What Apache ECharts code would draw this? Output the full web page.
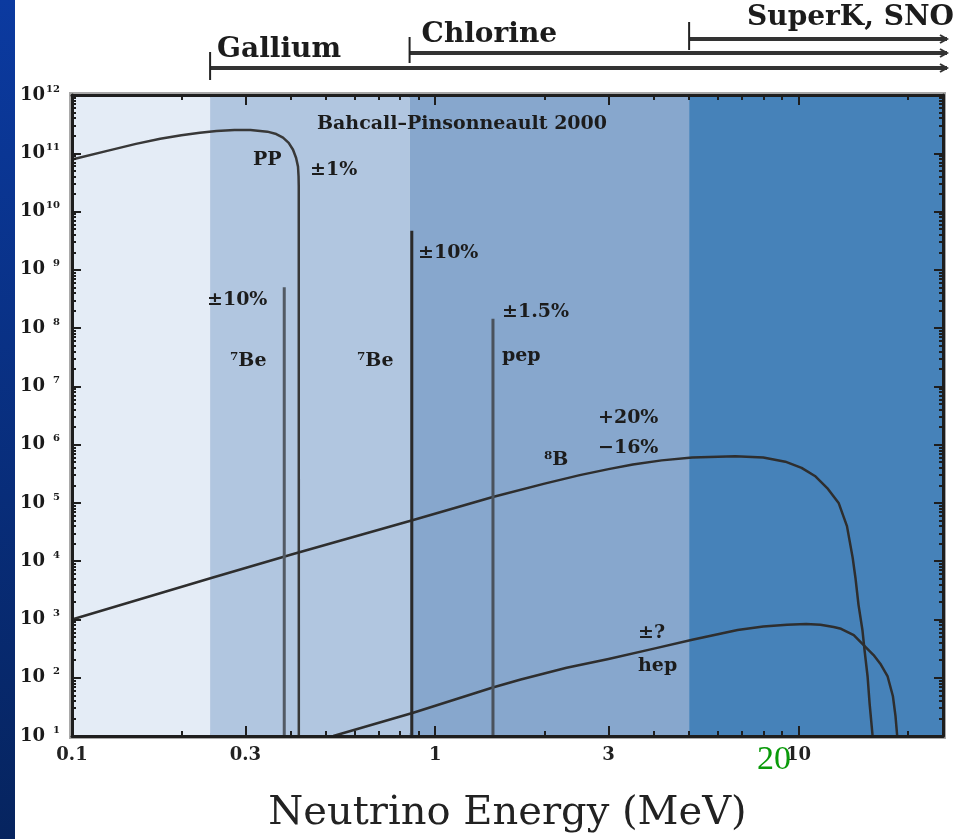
<!DOCTYPE html>
<html>
<head>
<meta charset="utf-8">
<script src="https://cdn.jsdelivr.net/npm/echarts@6/dist/echarts.min.js"></script>
<style>
  html, body { margin: 0; padding: 0; background: #fff; }
  #chart { width: 954px; height: 839px; }
</style>
</head>
<body>
<div id="chart"></div>
<script>
// energies in MeV, fluxes
const ppEnergy = [0.1, 0.125, 0.15, 0.175, 0.2, 0.225, 0.25, 0.28, 0.31, 0.345, 0.365, 0.381, 0.395, 0.406, 0.414, 0.419, 0.4205, 0.421, 0.4212];
const ppFlux = [7.8e10, 1.1e11, 1.45e11, 1.78e11, 2.04e11, 2.24e11, 2.4e11, 2.5e11, 2.5e11, 2.35e11, 2.14e11, 1.86e11, 1.51e11, 1.15e11, 8.3e10, 5.9e10, 4.0e10, 2.7e10, 10];

const b8Energy = [0.1, 0.243, 0.402, 0.87, 1.44, 2.0, 2.5, 3.0, 3.5, 4.2, 5.1, 6.7, 8.0, 9.2, 10.2, 11.1, 12.0, 12.9, 13.6, 14.1, 14.35, 14.63, 15.0, 15.2, 15.5, 15.7, 16.0];
const b8Flux = [1.0e3, 5.2e3, 1.3e4, 5.1e4, 1.26e5, 2.14e5, 3.0e5, 3.8e5, 4.57e5, 5.37e5, 6.0e5, 6.3e5, 6.0e5, 5.1e5, 4.0e5, 2.9e5, 1.8e5, 1.0e5, 4.0e4, 1.15e4, 5.2e3, 1.8e3, 660, 300, 105, 36, 10];

const hepEnergy = [0.524, 0.87, 1.44, 1.72, 2.3, 3.0, 4.0, 5.1, 6.8, 8.0, 9.3, 10.5, 11.5, 12.5, 13.1, 14.2, 15.0, 16.1, 16.8, 17.6, 18.2, 18.5, 18.7];
const hepFlux = [10, 25, 68, 93, 148, 209, 316, 447, 660, 760, 813, 832, 813, 741, 692, 537, 380, 245, 174, 105, 48, 22, 10];

// line sources: [energy, top flux]
const be7Low = [0.384, 5.0e8];
const be7High = [0.862, 4.7e9];
const pepLine = [1.442, 1.45e8];

// detector thresholds / shaded bands
const bandEdges = [0.1, 0.24, 0.85, 5, 25];
const bandColors = ['#e4ecf6', '#b1c6e0', '#87a7cd', '#4682b9'];

const xTickLabels = [0.1, 0.3, 1, 3, 10];
const yTickExps = [1, 2, 3, 4, 5, 6, 7, 8, 9, 10, 11, 12];

const xMin = 0.1, xMax = 25, yMin = 10, yMax = 1e12;

let xMinor = [];
for (let d = -1; d <= 1; d++) {
  for (let k = 1; k <= 9; k++) xMinor.push(+(k * Math.pow(10, d)).toPrecision(3));
}
xMinor.push(20);
let yMajor = yTickExps.map(e => Math.pow(10, e));
let yMinor = [];
yTickExps.slice(0, -1).forEach(e => {
  for (let k = 2; k <= 9; k++) yMinor.push(k * Math.pow(10, e));
});

const pairs = (xs, ys) => xs.map((x, i) => [x, ys[i]]);
const frame = '#1e1e1e';
const serif = 'DejaVu Serif';

function xAxisDef(pos, major, labels) {
  return {
    type: 'log', logBase: 10, min: xMin, max: xMax, position: pos, z: 6,
    axisLine: { show: major, lineStyle: { color: frame, width: 3 } },
    axisTick: { show: true, inside: true, length: major ? 10 : 5,
      customValues: major ? xTickLabels : xMinor,
      lineStyle: { color: frame, width: 2 } },
    axisLabel: labels ? {
      show: true, customValues: xTickLabels, margin: 10,
      formatter: v => String(v),
      fontFamily: serif, fontWeight: 'bold', fontSize: 18, color: '#222'
    } : { show: false },
    splitLine: { show: false }
  };
}
function yAxisDef(pos, major, labels) {
  return {
    type: 'log', logBase: 10, min: yMin, max: yMax, position: pos, z: 6,
    axisLine: { show: major, lineStyle: { color: frame, width: 3 } },
    axisTick: { show: true, inside: true, length: major ? 9 : 4,
      customValues: major ? yMajor : yMinor,
      lineStyle: { color: frame, width: 2 } },
    axisLabel: labels ? {
      show: true, customValues: yMajor, margin: 12,
      formatter: v => '{b|10}{s|' + Math.round(Math.log10(v)) + '}',
      rich: {
        b: { fontFamily: serif, fontWeight: 'bold', fontSize: 18, color: '#1a1a1a', lineHeight: 22 },
        s: { fontFamily: serif, fontWeight: 'bold', fontSize: 10, color: '#1a1a1a', lineHeight: 22,
             verticalAlign: 'top', width: 15, align: 'right' }
      }
    } : { show: false },
    splitLine: { show: false }
  };
}

const chart = echarts.init(document.getElementById('chart'));

const lineSeries = (name, data, color, width) => ({
  name, type: 'line', data, showSymbol: false, symbol: 'none', z: 3,
  xAxisIndex: 0, yAxisIndex: 0, animation: false,
  lineStyle: { color, width, join: 'round' }
});

const option = {
  animation: false,
  backgroundColor: '#ffffff',
  grid: { left: 72, right: 11, top: 95, bottom: 99, show: true,
          borderColor: '#a9a9a9', borderWidth: 6, backgroundColor: 'transparent' },
  xAxis: [
    Object.assign(xAxisDef('bottom', true, true), {
      name: 'Neutrino Energy (MeV)', nameLocation: 'middle', nameGap: 58,
      nameTextStyle: { fontFamily: serif, fontSize: 40, color: '#222' }
    }),
    xAxisDef('bottom', false, false),
    xAxisDef('top', true, false),
    xAxisDef('top', false, false)
  ],
  yAxis: [
    yAxisDef('left', true, true),
    yAxisDef('left', false, false),
    yAxisDef('right', true, false),
    yAxisDef('right', false, false)
  ],
  series: [
    {
      name: 'bands', type: 'line', data: [], z: 1, xAxisIndex: 0, yAxisIndex: 0,
      markArea: {
        silent: true,
        data: bandColors.map((c, i) => [
          { xAxis: bandEdges[i], itemStyle: { color: c } },
          { xAxis: bandEdges[i + 1] }
        ])
      }
    },
    lineSeries('pp', pairs(ppEnergy, ppFlux), '#383838', 2.5),
    lineSeries('8B', pairs(b8Energy, b8Flux), '#2e2e2e', 2.5),
    lineSeries('hep', pairs(hepEnergy, hepFlux), '#2e2e2e', 2.5),
    lineSeries('7Be 0.384', [[be7Low[0], yMin], be7Low], '#525a64', 3),
    lineSeries('7Be 0.862', [[be7High[0], yMin], be7High], '#2a2a2a', 3),
    lineSeries('pep', [[pepLine[0], yMin], pepLine], '#4a525c', 3)
  ]
};
chart.setOption(option);

// annotations and detector ranges, placed from axis coordinates
const px = v => chart.convertToPixel({ xAxisIndex: 0 }, v);
const txt = (text, x, y, size, extra) => ({
  type: 'text', z: 10,
  style: Object.assign({ text, x, y, fontFamily: serif, fontWeight: 'bold', fontSize: size,
    fill: '#1c1c1c', textAlign: 'left', textVerticalAlign: 'middle' }, extra || {})
});

const rightEnd = 947;
function detector(label, edge, yLine, yTop, yBot, xText, yText) {
  const x0 = px(edge);
  return [
    { type: 'line', z: 10, shape: { x1: x0, y1: yLine, x2: rightEnd, y2: yLine },
      style: { stroke: '#333', lineWidth: 4 } },
    { type: 'line', z: 10, shape: { x1: x0, y1: yTop, x2: x0, y2: yBot },
      style: { stroke: '#222', lineWidth: 2 } },
    { type: 'polyline', z: 10, shape: { points: [[rightEnd - 7, yLine - 4], [rightEnd, yLine], [rightEnd - 7, yLine + 4]] },
      style: { stroke: '#333', lineWidth: 2, fill: null } },
    txt(label, x0 + xText, yText, 28)
  ];
}

const graphics = [
  { type: 'rect', z: 20, shape: { x: 0, y: 0, width: 15, height: 839 },
    style: { fill: new echarts.graphic.LinearGradient(0, 0, 0, 1, [
      { offset: 0, color: '#0b3aa0' }, { offset: 1, color: '#06245f' }]) } },
  ...detector('Gallium', bandEdges[1], 68, 52, 80, 7, 50),
  ...detector('Chlorine', bandEdges[2], 53, 37, 63, 12, 35),
  ...detector('SuperK, SNO', bandEdges[3], 39, 22, 50, 58, 18),
  txt('Bahcall\u2013Pinsonneault 2000', 317, 124, 19),
  txt('PP', 253, 160, 19),
  txt('\u00b11%', 310, 170, 19),
  txt('\u00b110%', 418, 253, 19),
  txt('\u00b110%', 207, 300, 19),
  txt('\u2077Be', 230, 361, 19),
  txt('\u2077Be', 357, 361, 19),
  txt('\u00b11.5%', 502, 312, 19),
  txt('pep', 502, 356, 19),
  txt('+20%', 598, 418, 19),
  txt('\u221216%', 598, 448, 19),
  txt('\u2078B', 544, 460, 19),
  txt('\u00b1?', 638, 633, 19),
  txt('hep', 638, 666, 19),
  { type: 'text', z: 10, style: { text: '20', x: 757, y: 760, fontFamily: 'Liberation Serif',
    fontSize: 34, fill: '#0a9a0a', textAlign: 'left', textVerticalAlign: 'middle' } }
];
chart.setOption({ graphic: graphics });
</script>
</body>
</html>
